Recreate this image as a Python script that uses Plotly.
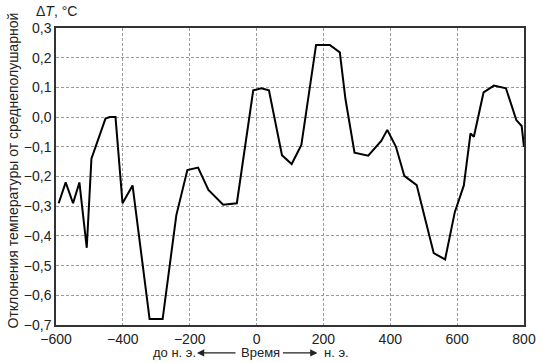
import plotly.graph_objects as go

years = [-592, -571, -549, -530, -508, -494, -452, -439, -422, -401, -371, -320, -281,
         -240, -207, -175, -144, -100, -59, -10, 14, 37, 76, 105, 134, 178, 219, 249,
         266, 293, 334, 373, 391, 417, 442, 479, 500, 530, 564, 593, 620, 634, 640,
         650, 679, 710, 746, 777, 793, 800]
dT = [-0.29, -0.22, -0.29, -0.22, -0.44, -0.14, -0.005, 0.0, 0.0, -0.29, -0.23, -0.68, -0.68,
      -0.33, -0.178, -0.17, -0.245, -0.295, -0.29, 0.09, 0.097, 0.09, -0.128, -0.158, -0.094, 0.243, 0.243, 0.218,
      0.06, -0.12, -0.13, -0.08, -0.043, -0.10, -0.198, -0.229, -0.324, -0.458, -0.479, -0.32, -0.23, -0.094, -0.055,
      -0.066, 0.083, 0.106, 0.097, -0.01, -0.03, -0.10]

x_ticks = [-600, -400, -200, 0, 200, 400, 600, 800]
x_labels = ["−600", "−400", "−200", "0", "200", "400", "600", "800"]
y_ticks = [-0.7, -0.6, -0.5, -0.4, -0.3, -0.2, -0.1, 0.0, 0.1, 0.2, 0.3]
y_labels = ["−0,7", "−0,6", "−0,5", "−0,4", "−0,3", "−0,2", "−0,1", "0,0", "0,1", "0,2", "0,3"]

font = "Liberation Sans, Arial, sans-serif"

fig = go.Figure()
fig.add_trace(go.Scatter(x=years, y=dT, mode="lines",
                         line=dict(color="black", width=2), showlegend=False))

axis_common = dict(showgrid=True, gridcolor="#9a9a9a", griddash="3px,2px", gridwidth=1,
                   showline=True, linecolor="#333333", linewidth=1.5, mirror=True,
                   zeroline=False, ticks="", tickfont=dict(family=font, size=14, color="#222"))

fig.update_xaxes(range=[-600, 800], tickvals=x_ticks, ticktext=x_labels, **axis_common)
fig.update_yaxes(range=[-0.7, 0.3], tickvals=y_ticks, ticktext=y_labels, **axis_common)

ann = []
ann.append(dict(text="Δ<i>T</i>, °C", x=0.0, y=1.056, xref="paper", yref="paper",
                showarrow=False, xanchor="center", yanchor="middle",
                font=dict(family=font, size=14, color="#222")))
ann.append(dict(text="Отклонения температуры от среднеполушарной", x=-0.092, y=0.52,
                xref="paper", yref="paper", showarrow=False, textangle=-90,
                xanchor="center", yanchor="middle",
                font=dict(family=font, size=14, color="#222")))
# bottom time label
by = -0.094
ann.append(dict(text="до н. э.", x=(177 - 56) / 478, y=by, xref="paper", yref="paper",
                showarrow=False, xanchor="center", yanchor="middle",
                font=dict(family=font, size=13, color="#222")))
ann.append(dict(text="Время", x=(265 - 56) / 478, y=by, xref="paper", yref="paper",
                showarrow=False, xanchor="center", yanchor="middle",
                font=dict(family=font, size=13, color="#222")))
ann.append(dict(text="н. э.", x=(343 - 56) / 478, y=by, xref="paper", yref="paper",
                showarrow=False, xanchor="center", yanchor="middle",
                font=dict(family=font, size=13, color="#222")))
# arrows
ann.append(dict(text="", x=(200 - 56) / 478, y=by, xref="paper", yref="paper",
                ax=40, ay=0, showarrow=True, arrowhead=2, arrowsize=1.2,
                arrowwidth=1.2, arrowcolor="#222"))
ann.append(dict(text="", x=(323 - 56) / 478, y=by, xref="paper", yref="paper",
                ax=-36, ay=0, showarrow=True, arrowhead=2, arrowsize=1.2,
                arrowwidth=1.2, arrowcolor="#222"))

fig.update_layout(width=548, height=363, margin=dict(l=56, r=14, t=28, b=38),
                  paper_bgcolor="white", plot_bgcolor="white", annotations=ann)

fig.write_html("out.html")
